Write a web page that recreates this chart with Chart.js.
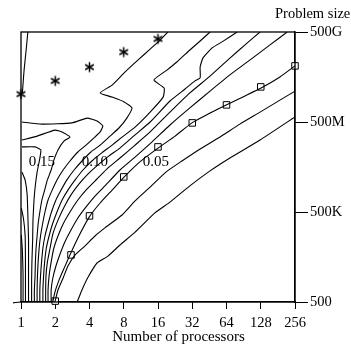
<!DOCTYPE html>
<html><head><meta charset="utf-8">
<script src="https://cdn.jsdelivr.net/npm/chart.js@4.4.0/dist/chart.umd.min.js"></script>
<style>html,body{margin:0;padding:0;background:#fff;overflow:hidden}canvas{display:block}</style>
</head><body>
<canvas id="c" width="351" height="348"></canvas>
<script>
// x = log2(number of processors), y = decades of problem size above 500
const xTickValues = [0,1,2,3,4,5,6,7,8];
const xTickLabels = ['1','2','4','8','16','32','64','128','256'];
const yTickValues = [0,3,6,9];
const yTickLabels = ['500','500K','500M','500G'];
const xTitle = 'Number of processors';
const yTitle = 'Problem size';
const contourLabels = ['0.15','0.10','0.05'];
const contourLabelX = [0.61,2.16,3.94];
const contourLabelY = [4.67,4.67,4.67];
const asteriskX = [0,1,2,3,4];
const asteriskY = [6.93,7.37,7.83,8.33,8.77];
const squareX = [1.0,1.46,2.0,3.0,4.0,5.0,6.0,7.0,8.0];
const squareY = [0.03,1.57,2.87,4.17,5.17,5.97,6.57,7.17,7.87];

const contourR1 = [[1.64,0],[1.78,0.4],[1.96,0.83],[2.22,1.3],[2.54,1.53],[2.89,1.9],[3.33,2.33],[3.91,2.97],[4.35,3.33],[4.93,3.87],[5.52,4.37],[6.1,4.8],[6.98,5.4],[8,6.17]];
const contourR2 = [[0.99,0],[1.08,0.4],[1.23,0.8],[1.37,1.2],[1.58,1.57],[1.87,1.87],[2.16,2.2],[2.45,2.47],[2.95,2.9],[3.33,3.37],[3.77,3.83],[4.23,4.33],[4.7,4.7],[5.23,5.1],[5.81,5.5],[6.39,5.93],[6.98,6.33],[7.56,6.73],[8,7.03]];
const contourR3 = [[0.93,0],[0.99,0.33],[1.11,0.73],[1.26,1.13],[1.43,1.57],[1.69,2.2],[1.99,2.83],[2.31,3.3],[2.66,3.73],[2.98,4.13],[3.47,4.67],[4.0,5.13],[4.5,5.53],[4.99,5.97],[5.52,6.3],[5.99,6.57],[6.54,6.87],[7.01,7.13],[7.56,7.5],[8,7.87]];
const contourT1 = [[0.88,0],[0.88,0.4],[0.93,0.8],[1.02,1.2],[1.14,1.6],[1.28,2.0],[1.46,2.4],[1.66,2.8],[1.9,3.17],[2.16,3.53],[2.45,3.87],[2.89,4.4],[3.33,4.83],[3.82,5.33],[4.35,5.9],[4.93,6.47],[5.52,7.03],[6.1,7.57],[6.69,8.07],[7.27,8.57],[7.77,9]];
const contourT2 = [[0.79,0],[0.79,0.4],[0.82,0.87],[0.88,1.33],[0.96,1.8],[1.08,2.2],[1.23,2.6],[1.43,3.0],[1.66,3.4],[1.93,3.77],[2.22,4.1],[2.54,4.47],[2.89,4.8],[3.33,5.23],[3.77,5.67],[4.35,6.33],[4.93,6.97],[5.52,7.53],[6.1,8.13],[6.54,8.57],[6.98,9]];
const contourT3 = [[0.72,0],[0.72,0.4],[0.73,0.87],[0.77,1.33],[0.85,1.8],[0.93,2.27],[1.08,2.73],[1.26,3.17],[1.46,3.57],[1.69,3.93],[1.96,4.27],[2.25,4.57],[2.57,4.87],[2.89,5.13],[3.33,5.57],[3.77,6.0],[4.35,6.7],[4.79,7.1],[5.08,7.37],[5.23,7.47],[5.23,7.83],[5.31,8.13],[5.58,8.47],[5.87,8.67],[6.31,9]];
const contourT4 = [[0.64,0],[0.64,0.4],[0.66,0.87],[0.69,1.33],[0.74,1.8],[0.82,2.2],[0.92,2.6],[1.05,3.0],[1.2,3.4],[1.37,3.73],[1.58,4.07],[1.81,4.4],[2.07,4.7],[2.36,4.97],[2.66,5.23],[2.92,5.47],[3.33,5.83],[3.77,6.33],[4.15,6.83],[4.18,7.13],[3.88,7.4],[4.26,7.73],[4.55,8.0],[4.93,8.4],[5.23,8.7],[5.52,9]];
const contourT5 = [[0.55,0],[0.55,0.4],[0.57,0.87],[0.6,1.33],[0.64,1.8],[0.7,2.2],[0.79,2.6],[0.89,3.0],[1.02,3.4],[1.17,3.73],[1.34,4.07],[1.55,4.4],[1.78,4.7],[2.04,5.0],[2.31,5.23],[2.6,5.53],[2.86,5.8],[3.09,6.13],[3.24,6.47],[3.01,6.67],[2.66,6.83],[2.31,6.97],[2.66,7.23],[3.04,7.67],[3.42,8.07],[3.77,8.43],[4.06,8.73],[4.29,9]];
const contourF4 = [[0.47,0],[0.47,0.4],[0.48,0.87],[0.5,1.33],[0.53,1.8],[0.57,2.2],[0.63,2.6],[0.7,3.0],[0.79,3.4],[0.91,3.73],[1.05,4.07],[1.23,4.4],[1.43,4.7],[1.66,5.0],[1.9,5.23],[2.13,5.47],[2.31,5.67],[2.39,5.87],[2.22,6.03],[1.93,6.13],[1.49,5.97],[0.61,5.93],[0.03,6.0]];
const contourF3 = [[0.39,0],[0.39,0.4],[0.41,0.87],[0.42,1.33],[0.44,1.8],[0.47,2.2],[0.5,2.6],[0.55,3.0],[0.61,3.4],[0.69,3.73],[0.77,4.07],[0.88,4.4],[0.96,4.73],[1.08,5.07],[1.26,5.37],[1.43,5.5],[1.2,5.67],[0.99,5.73],[0.47,5.53],[0.03,5.4]];
const contourF2 = [[0.31,0],[0.31,0.73],[0.32,1.4],[0.34,2.07],[0.35,2.73],[0.38,3.4],[0.42,3.9],[0.47,4.33],[0.53,4.67],[0.58,5.07],[0.41,5.17],[0.03,5.17]];
const contourF1c = [[0.22,0],[0.22,1.07],[0.22,2.07],[0.2,2.9],[0.18,3.57],[0.12,4.07],[0.03,4.33]];
const contourF1b = [[0.13,0],[0.13,1.4],[0.12,2.23],[0.07,2.8],[0.01,3.13]];
const contourF1a = [[0.06,0],[0.06,0.9],[0.04,1.73],[0.01,2.23]];
const contourNL = [[0.2,9],[0.15,8.4],[0.09,7.73],[0.04,6.97]];
const contourTail = [[-0.41,-0.1],[-0.23,-0.03],[0,0]];

const contours = [contourR1,contourR2,contourR3,contourT1,contourT2,contourT3,contourT4,contourT5,contourF4,contourF3,contourF2,contourF1c,contourF1b,contourF1a,contourNL];

const SERIF = '"Liberation Serif", "DejaVu Serif", serif';
const toPts = a => a.map(p => ({x: p[0], y: p[1]}));

// six-armed asterisk marker
const star = document.createElement('canvas');
star.width = 13; star.height = 13;
(() => {
  const g = star.getContext('2d');
  g.strokeStyle = '#000'; g.lineWidth = 1.5; g.lineCap = 'butt';
  const c = 6.5, r = 5;
  [90, 30, -30].forEach(d => {
    const t = d * Math.PI / 180;
    g.beginPath();
    g.moveTo(c - r * Math.cos(t), c - r * Math.sin(t));
    g.lineTo(c + r * Math.cos(t), c + r * Math.sin(t));
    g.stroke();
  });
})();

const datasets = contours.map(c => ({
  type: 'scatter', data: toPts(c), showLine: true, borderColor: '#000', borderWidth: 1.1,
  pointRadius: 0, tension: 0.15, fill: false
}));
datasets.push({
  type: 'scatter', data: toPts(contourTail), showLine: true, borderColor: '#000', borderWidth: 1.1,
  pointRadius: 0, tension: 0.3, fill: false, clip: false
});
datasets.push({
  type: 'scatter', data: asteriskX.map((x,i)=>({x, y: asteriskY[i]})), pointStyle: star,
  pointRadius: 6, clip: false
});
datasets.push({
  type: 'scatter', data: squareX.map((x,i)=>({x, y: squareY[i]})), pointStyle: 'rect',
  pointRadius: 4.6, borderColor: '#000', borderWidth: 1, backgroundColor: '#fff', clip: false
});

const decor = {
  id: 'decor',
  afterDatasetsDraw(chart) {
    const ctx = chart.ctx, a = chart.chartArea, sx = chart.scales.x, sy = chart.scales.y;
    ctx.save();
    ctx.strokeStyle = '#000'; ctx.lineWidth = 1.3;
    ctx.strokeRect(a.left, a.top, a.right - a.left, a.bottom - a.top);
    ctx.fillStyle = '#000';
    ctx.font = '15px ' + SERIF;
    ctx.textAlign = 'center'; ctx.textBaseline = 'middle';
    contourLabels.forEach((t,i) => {
      ctx.fillText(t, sx.getPixelForValue(contourLabelX[i]), sy.getPixelForValue(contourLabelY[i]));
    });
    ctx.font = '15px ' + SERIF;
    ctx.textBaseline = 'alphabetic';
    ctx.textAlign = 'center';
    ctx.fillText(xTitle, 178.5, 341);
    ctx.textAlign = 'left';
    ctx.font = '14.5px ' + SERIF;
    ctx.fillText(yTitle, 275, 17.5);
    ctx.restore();
  }
};

new Chart(document.getElementById('c'), {
  type: 'scatter',
  data: { datasets },
  options: {
    responsive: false, animation: false, devicePixelRatio: 1,
    layout: { padding: { left: 21, top: 32, right: 0, bottom: 0 } },
    plugins: { legend: { display: false }, tooltip: { enabled: false } },
    scales: {
      x: {
        type: 'linear', position: 'bottom', min: 0, max: 8,
        afterBuildTicks: s => { s.ticks = xTickValues.map(v => ({value: v})); },
        afterFit: s => { s.height = 46; },
        ticks: { callback: (v) => xTickLabels[xTickValues.indexOf(v)], color: '#000',
                 font: { family: SERIF, size: 14.5 }, padding: 5, maxRotation: 0, autoSkip: false },
        grid: { drawOnChartArea: false, drawTicks: true, tickLength: 7, color: '#000', lineWidth: 1 },
        border: { display: true, color: '#000', width: 1.3 }
      },
      y: {
        type: 'linear', position: 'right', min: 0, max: 9,
        afterBuildTicks: s => { s.ticks = yTickValues.map(v => ({value: v})); },
        afterFit: s => { s.width = 56; },
        ticks: { callback: (v) => yTickLabels[yTickValues.indexOf(v)], color: '#000',
                 font: { family: SERIF, size: 14.5 }, padding: 2, autoSkip: false },
        grid: { drawOnChartArea: false, drawTicks: true, tickLength: 13, color: '#000', lineWidth: 1 },
        border: { display: true, color: '#000', width: 1.3 }
      }
    }
  },
  plugins: [decor]
});
</script>
</body></html>
